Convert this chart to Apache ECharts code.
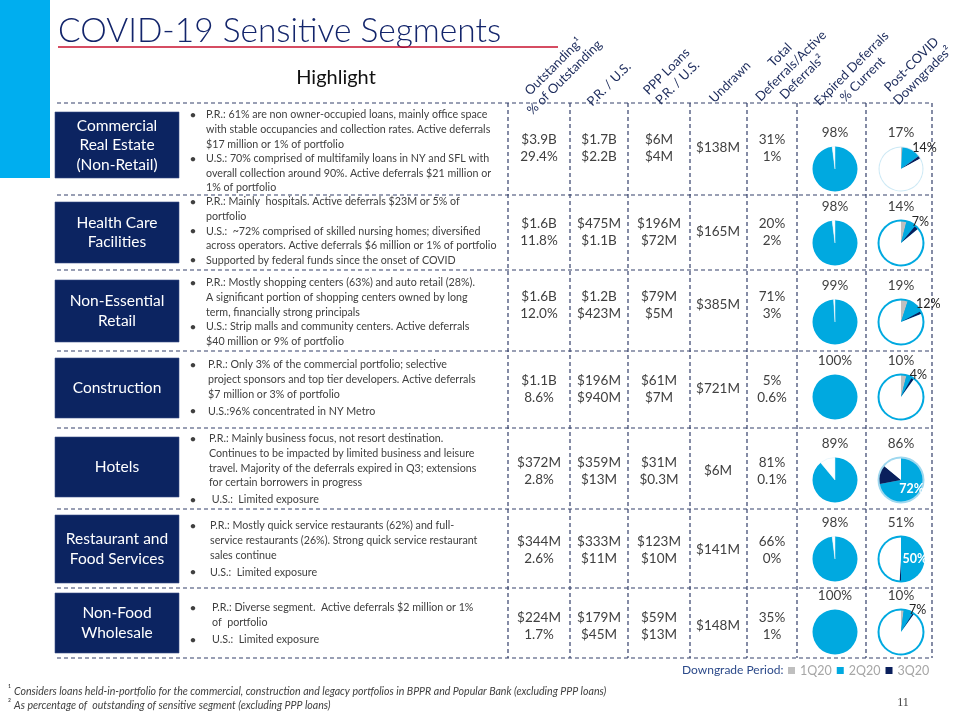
<!DOCTYPE html>
<html>
<head>
<meta charset="utf-8">
<script src="https://cdn.jsdelivr.net/npm/echarts@6/dist/echarts.min.js"></script>
<style>
html,body{margin:0;padding:0;background:#fff;}
#chart{width:960px;height:720px;}
</style>
</head>
<body>
<div id="chart"></div>
<script>
// ---------------- DATA ----------------
const segments = ['Commercial\nReal Estate\n(Non-Retail)', 'Health Care\nFacilities', 'Non-Essential\nRetail', 'Construction', 'Hotels', 'Restaurant and\nFood Services', 'Non-Food\nWholesale'];
const headers = ['Outstanding\u00b9\n% of Outstanding', 'P.R. / U.S.', 'PPP Loans\nP.R. / U.S.', 'Undrawn', 'Total\nDeferrals/Active\nDeferrals\u00b2', 'Expired Deferrals\n% Current', 'Post-COVID\nDowngrades\u00b2'];
const highlights = [
  ['P.R.: 61% are non owner-occupied loans, mainly office space\nwith stable occupancies and collection rates. Active deferrals\n$17 million or 1% of portfolio',
   'U.S.: 70% comprised of multifamily loans in NY and SFL with\noverall collection around 90%. Active deferrals $21 million or\n1% of portfolio'],
  ['P.R.: Mainly  hospitals. Active deferrals $23M or 5% of\nportfolio',
   'U.S.:  ~72% comprised of skilled nursing homes; diversified\nacross operators. Active deferrals $6 million or 1% of portfolio',
   'Supported by federal funds since the onset of COVID'],
  ['P.R.: Mostly shopping centers (63%) and auto retail (28%).\nA significant portion of shopping centers owned by long\nterm, financially strong principals',
   'U.S.: Strip malls and community centers. Active deferrals\n$40 million or 9% of portfolio'],
  ['P.R.: Only 3% of the commercial portfolio; selective\nproject sponsors and top tier developers. Active deferrals\n$7 million or 3% of portfolio',
   'U.S.:96% concentrated in NY Metro'],
  ['P.R.: Mainly business focus, not resort destination.\nContinues to be impacted by limited business and leisure\ntravel. Majority of the deferrals expired in Q3; extensions\nfor certain borrowers in progress',
   ' U.S.:  Limited exposure'],
  ['P.R.: Mostly quick service restaurants (62%) and full-\nservice restaurants (26%). Strong quick service restaurant\nsales continue',
   'U.S.:  Limited exposure'],
  ['P.R.: Diverse segment.  Active deferrals $2 million or 1%\nof  portfolio',
   'U.S.:  Limited exposure']
];
const outstanding     = ['$3.9B', '$1.6B', '$1.6B', '$1.1B', '$372M', '$344M', '$224M'];
const pctOutstanding  = ['29.4%', '11.8%', '12.0%', '8.6%', '2.8%', '2.6%', '1.7%'];
const prAmount        = ['$1.7B', '$475M', '$1.2B', '$196M', '$359M', '$333M', '$179M'];
const usAmount        = ['$2.2B', '$1.1B', '$423M', '$940M', '$13M', '$11M', '$45M'];
const pppPR           = ['$6M', '$196M', '$79M', '$61M', '$31M', '$123M', '$59M'];
const pppUS           = ['$4M', '$72M', '$5M', '$7M', '$0.3M', '$10M', '$13M'];
const undrawn         = ['$138M', '$165M', '$385M', '$721M', '$6M', '$141M', '$148M'];
const totalDeferrals  = ['31%', '20%', '71%', '5%', '81%', '66%', '35%'];
const activeDeferrals = ['1%', '2%', '3%', '0.6%', '0.1%', '0%', '1%'];
const expiredCurrent  = [98, 98, 99, 100, 89, 98, 100];
const downgradeTotal  = [17, 14, 19, 10, 86, 51, 10];
const downgrades1Q20  = [1, 4, 5, 4, 0, 0, 2];
const downgrades2Q20  = [14, 7, 12, 4, 72, 50, 7];
const downgrades3Q20  = [2, 3, 2, 2, 14, 1, 1];
const periods = ['1Q20', '2Q20', '3Q20'];
const footnotes = ['Considers loans held-in-portfolio for the commercial, construction and legacy portfolios in BPPR and Popular Bank (excluding PPP loans)',
                   'As percentage of  outstanding of sensitive segment (excluding PPP loans)'];

// ---------------- LAYOUT / STYLE ----------------
const FONT = 'Lato, "Open Sans", sans-serif';
const NAVY = '#0c2461', CYAN = '#00a9e0', GRAY = '#bfbfbf', DARK = '#0a1f5c', TXT = '#404040';
const hLines = [103, 195, 270, 351, 428, 509, 588, 658];
const vLines = [508, 570, 628, 690, 747, 797, 866, 932];
const headerPos = [[559, 72], [609, 84], [672, 77], [730, 82], [791, 66], [857, 74], [917, 70]];
const boxes = [[112, 178], [202, 263], [280, 342], [358, 418], [437, 497], [515, 583], [593, 653]];
const bulletY0 = [115, 202, 283, 365, 439, 526, 608];
const bulletX = [206, 206, 206, 208, 209, 210, 212];
const paraGap = [0, 0, 0, 2.5, 2.5, 2.5, 2.5];
const LH = 14.6;
const valueCy = [148, 232, 305, 389, 471, 550, 626];
const colX = [539, 599, 659, 718, 772];
const pieCy = [169, 243, 322, 397, 480, 559, 632];
const leftPieX = 835, rightPieX = 901;
const ringColors = ['#cde9f5', CYAN, CYAN, CYAN, '#9fd8ef', CYAN, CYAN];
const insideLabel = [false, false, false, false, true, true, false];

const g = [];
// left accent bar, title
g.push({type: 'rect', shape: {x: 0, y: 0, width: 50, height: 178}, style: {fill: '#00aeef'}});
g.push({type: 'text', x: 58, y: 31, style: {text: 'COVID-19 Sensitive Segments', font: '300 33.5px ' + FONT, fill: '#13256b', verticalAlign: 'middle'}});
g.push({type: 'line', shape: {x1: 58, y1: 47, x2: 558, y2: 47}, style: {stroke: '#c8102e', lineWidth: 1.5}});
g.push({type: 'text', x: 336, y: 78, style: {text: 'Highlight', font: '20px ' + FONT, fill: '#111', align: 'center', verticalAlign: 'middle'}});

// rotated headers
headers.forEach((h, i) => {
  g.push({type: 'text', x: headerPos[i][0], y: headerPos[i][1], rotation: Math.PI / 4,
    style: {text: h, font: '13px ' + FONT, fill: '#1b2a5b', align: 'center', verticalAlign: 'middle', lineHeight: 15.5}});
});

// dashed grid
const dash = {stroke: '#34406b', lineWidth: 1.2, lineDash: [4, 3]};
hLines.forEach(y => g.push({type: 'line', shape: {x1: 57, y1: y, x2: 932, y2: y}, style: dash}));
vLines.forEach(x => g.push({type: 'line', shape: {x1: x, y1: 103, x2: x, y2: 658}, style: dash}));

// segment boxes + bullets
segments.forEach((s, i) => {
  const [y0, y1] = boxes[i];
  g.push({type: 'rect', shape: {x: 55, y: y0, width: 124, height: y1 - y0}, style: {fill: NAVY, stroke: '#3a4f86', lineWidth: 0.6}});
  g.push({type: 'text', x: 117, y: (y0 + y1) / 2, style: {text: s, font: '15.5px ' + FONT, fill: '#fff', align: 'center', verticalAlign: 'middle', lineHeight: 19.5}});
  let line = 0;
  highlights[i].forEach((b, k) => {
    const y = bulletY0[i] + line * LH + (k > 0 ? paraGap[i] : 0);
    g.push({type: 'text', x: 193, y: y, style: {text: '\u2022', font: '12px ' + FONT, fill: TXT, align: 'center', verticalAlign: 'middle'}});
    g.push({type: 'text', x: bulletX[i], y: y - LH / 2, style: {text: b, font: '10.7px ' + FONT, fill: TXT, verticalAlign: 'top', lineHeight: LH}});
    line += b.split('\n').length;
  });
  // value columns
  const vs = [[outstanding[i], pctOutstanding[i]], [prAmount[i], usAmount[i]], [pppPR[i], pppUS[i]], [undrawn[i]], [totalDeferrals[i], activeDeferrals[i]]];
  vs.forEach((v, c) => {
    g.push({type: 'text', x: colX[c], y: valueCy[i], style: {text: v.join('\n'), font: '13.5px ' + FONT, fill: TXT, align: 'center', verticalAlign: 'middle', lineHeight: 16.5}});
  });
  // pie titles
  g.push({type: 'text', x: leftPieX, y: pieCy[i] - 36, style: {text: expiredCurrent[i] + '%', font: '13.5px ' + FONT, fill: TXT, align: 'center', verticalAlign: 'middle'}});
  g.push({type: 'text', x: rightPieX, y: pieCy[i] - 36, style: {text: downgradeTotal[i] + '%', font: '13.5px ' + FONT, fill: TXT, align: 'center', verticalAlign: 'middle'}});
});

// legend caption, footnotes, page number
g.push({type: 'text', x: 682, y: 670, style: {text: 'Downgrade Period:', font: '12px ' + FONT, fill: '#2c4a8a', verticalAlign: 'middle'}});
footnotes.forEach((f, i) => {
  g.push({type: 'text', x: 8, y: 689 + i * 14, style: {text: (i === 0 ? '\u00b9' : '\u00b2'), font: '9px ' + FONT, fill: TXT, verticalAlign: 'middle'}});
  g.push({type: 'text', x: 14, y: 692 + i * 14, style: {text: f, font: 'italic 10.6px ' + FONT, fill: TXT, verticalAlign: 'middle'}});
});
g.push({type: 'text', x: 903, y: 703, style: {text: '11', font: '12px "Liberation Serif", serif', fill: TXT, align: 'center', verticalAlign: 'middle'}});

// ---------------- SERIES ----------------
const series = [];
expiredCurrent.forEach((v, i) => {
  const d = [{name: 'Current', value: v, itemStyle: {color: CYAN}}];
  if (v < 100) d.push({name: 'Not current', value: 100 - v, itemStyle: {color: '#fff', borderColor: '#d6eef8', borderWidth: 0.5}});
  series.push({type: 'pie', silent: true, animation: false, center: [leftPieX, pieCy[i]], radius: 22.5, startAngle: 90,
    label: {show: false}, labelLine: {show: false}, avoidLabelOverlap: false, data: d});
});
downgradeTotal.forEach((t, i) => {
  series.push({type: 'pie', silent: true, animation: false, center: [rightPieX, pieCy[i]], radius: i === 0 ? 22.5 : 23.5, z: 1,
    label: {show: false}, labelLine: {show: false},
    data: [{name: 'ring', value: 1, itemStyle: {color: ringColors[i]}}]});
  const inside = insideLabel[i];
  series.push({type: 'pie', silent: true, animation: false, center: [rightPieX, pieCy[i]], radius: 21.5, startAngle: 90, z: 2,
    avoidLabelOverlap: false, label: {show: false}, labelLine: {show: false, length: 2, length2: 0},
    data: [
      {name: periods[0], value: downgrades1Q20[i], itemStyle: {color: GRAY}},
      {name: periods[1], value: downgrades2Q20[i], itemStyle: {color: CYAN},
        label: inside ? {show: true, position: 'inside', formatter: '{c}%', color: '#fff', fontWeight: 'bold', fontSize: 12.5, fontFamily: FONT}
                      : {show: true, position: 'outside', formatter: '{c}%', color: '#222', fontSize: 12.5, fontFamily: FONT, distanceToLabelLine: 0}},
      {name: periods[2], value: downgrades3Q20[i], itemStyle: {color: DARK}},
      {name: 'No downgrade', value: 100 - t, itemStyle: {color: '#fff'}}
    ]});
});

const chart = echarts.init(document.getElementById('chart'), null, {renderer: 'canvas'});
chart.setOption({
  animation: false,
  backgroundColor: '#fff',
  legend: {data: periods, left: 788, top: 664, icon: 'rect', itemWidth: 7, itemHeight: 7, itemGap: 5, padding: 0,
    selectedMode: false, textStyle: {color: '#a6a6a6', fontSize: 12.5, fontFamily: FONT}},
  graphic: g,
  series: series
});
</script>
</body>
</html>
